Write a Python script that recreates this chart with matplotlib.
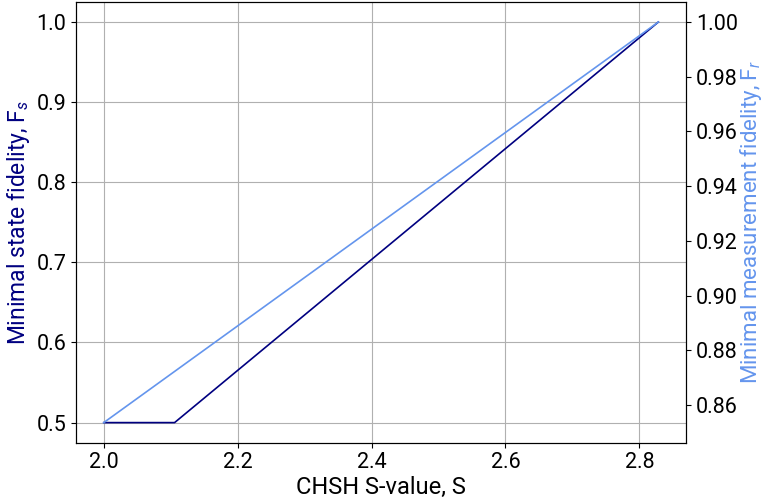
import matplotlib
matplotlib.use("Agg")
import matplotlib.pyplot as plt

# values
S_state = [2.0, 2.1058, 2.8284]
F_state = [0.5, 0.5, 1.0]
S_meas = [2.0, 2.8284]
F_meas = [0.8536, 1.0]

state_color = "navy"
meas_color = "cornflowerblue"

plt.rcParams["font.family"] = ["Roboto", "DejaVu Sans"]
plt.rcParams["font.size"] = 15.5
plt.rcParams["mathtext.fontset"] = "custom"
plt.rcParams["mathtext.rm"] = "Roboto"
plt.rcParams["mathtext.it"] = "Roboto:italic"

fig, ax1 = plt.subplots(figsize=(7.64, 5.03), dpi=100)
fig.subplots_adjust(left=0.0995, right=0.898, top=0.996, bottom=0.120)

ax1.plot(S_state, F_state, color=state_color, lw=1.2)
ax1.set_xlabel("CHSH S-value, S", fontsize=17, labelpad=2)
ax1.set_ylabel("Minimal state fidelity, F$_s$", color=state_color, fontsize=16.5, labelpad=3)
ax1.grid(True, color="#b0b0b0", lw=0.8)
ax1.set_yticks([0.5, 0.6, 0.7, 0.8, 0.9, 1.0])
ax1.set_xticks([2.0, 2.2, 2.4, 2.6, 2.8])

ax2 = ax1.twinx()
ax2.plot(S_meas, F_meas, color=meas_color, lw=1.2)
ax2.set_ylabel("Minimal measurement fidelity, F$_r$", color=meas_color, fontsize=16, labelpad=0)
ax2.set_yticks([0.86, 0.88, 0.90, 0.92, 0.94, 0.96, 0.98, 1.00])
ax2.yaxis.set_major_formatter(matplotlib.ticker.FormatStrFormatter("%.2f"))

fig.savefig("out.png", dpi=100)
